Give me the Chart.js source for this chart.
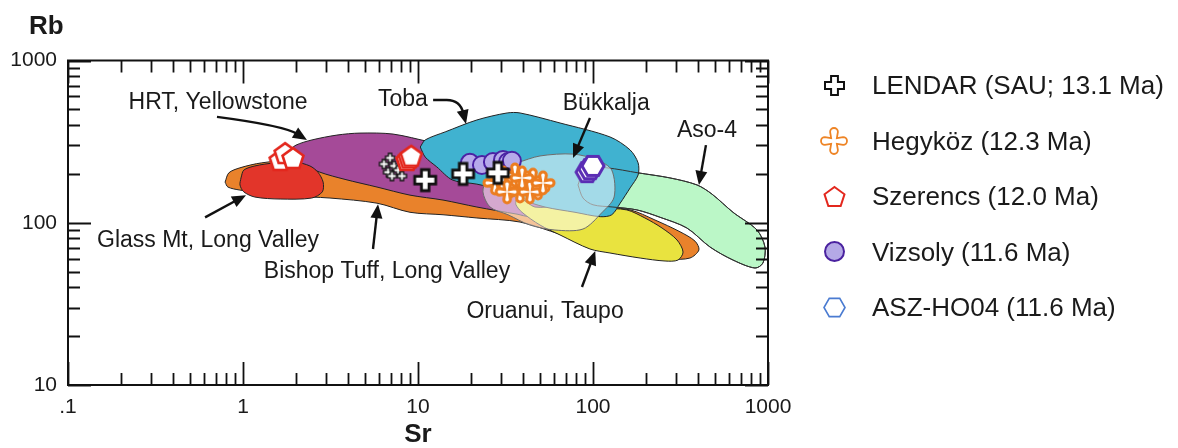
<!DOCTYPE html>
<html lang="en">
<head>
<meta charset="utf-8">
<title>Rb vs Sr</title>
<script src="https://cdn.jsdelivr.net/npm/chart.js@4/dist/chart.umd.min.js"></script>
<style>
  html, body { margin: 0; padding: 0; background: #ffffff; }
  #wrap { width: 1178px; height: 448px; }
  canvas { display: block; }
</style>
</head>
<body>
<div id="wrap"><canvas id="chart" width="1178" height="448"></canvas></div>
<script>
const FONT = '"Liberation Sans", Arial, Helvetica, sans-serif';
const INK = '#1a1a1a';

// Axis ticks (ppm)
const srTicks = [0.1, 1, 10, 100, 1000];
const srTickLabels = ['.1', '1', '10', '100', '1000'];
const rbTicks = [10, 100, 1000];
const rbTickLabels = ['10', '100', '1000'];

// Literature fields: outlines as [Sr, Rb] in ppm
const bishopTuffField = [[0.79,178],[0.83,203],[0.96,218],[1.28,234],[2.12,244],[4.08,211],[7.89,178],[15.2,155],[38.3,138],[96,127],[163,120],[226,104],[314,88],[383,77],[403,68],[358,60.6],[275,59.7],[186,62.4],[110,72],[64.8,85],[38.3,101],[21.7,107],[13.9,112],[9.0,116],[5.83,132],[3.14,142],[1.86,146],[1.25,153],[0.96,159],[0.82,166],[0.79,178]];
const hrtYellowstoneField = [[1.78,273],[2.01,301],[2.48,324],[3.44,347],[4.66,357],[7.2,352],[11.7,315],[19.8,281],[33.6,227],[49.8,171],[55.3,129],[43.6,110],[36.8,113],[21.7,125],[13.9,138],[9.0,148],[5.83,166],[3.83,185],[2.75,205],[2.12,234],[1.78,273]];
const glassMtField = [[0.974,189],[1.01,211],[1.17,224],[1.52,234],[1.98,237],[2.41,224],[2.68,205],[2.87,178],[2.84,155],[2.47,142],[1.63,140],[1.17,144],[1.01,155],[0.961,171],[0.974,189]];
const oruanuiField = [[36.3,138],[39.3,140],[46.6,125],[64.8,127],[110,123],[156,120],[198,107],[248,92.8],[302,78.3],[327,66],[306,58.9],[258,58.1],[186,60.6],[125,65.1],[96.1,68.9],[64.8,84.1],[49.8,96.8],[39.3,116],[36.3,129],[36.3,138]];
const aso4Field = [[82.1,171],[90,218],[120,218],[181,203],[275,189],[393,171],[479,150],[631,116],[865,90.2],[961,70.9],[936,56.5],[843,52.6],[631,58.9],[466,70.9],[344,92.8],[242,108],[178,120],[130,125],[100,129],[87.7,142],[82.1,171]];
const tobaField = [[10.3,293],[11.0,324],[14.3,363],[21.7,430],[32.3,475],[38.3,475],[64.8,412],[125,338],[163,281],[181,234],[181,197],[163,164],[143,132],[128,112],[110,109],[78.9,116],[53.2,125],[38.3,140],[29.4,159],[21.7,173],[15.8,183],[12.8,221],[11.0,254],[10.3,293]];
const bukkaljaField = [[36.8,234],[49.8,258],[76.9,265],[105,244],[128,211],[132,144],[112,115],[87.7,91.5],[60.6,90.2],[43.6,96.8],[32.7,112],[25.8,125],[23.5,155],[24.8,183],[29.4,200],[36.8,234]];

// Samples (ppm)
const lendarSr = [11.0, 18.1, 28.6];
const lendarRb = [183, 200, 203];
const lendarClusterSr = [6.39, 6.92, 7.29, 6.74, 7.69, 8.1, 7.1];
const lendarClusterRb = [230, 251, 224, 205, 211, 194, 194];
const hegykozSr = [27.5, 30.6, 33.6, 35.8, 38.3, 42.0, 45.4, 48.5, 43.6, 51.8, 32.3, 39.3];
const hegykozRb = [176, 189, 168, 197, 157, 176, 183, 164, 155, 176, 155, 189];
const szerencsSr = [1.63, 1.74, 1.93, 8.65, 8.9, 9.15];
const szerencsRb = [244, 269, 251, 244, 252, 259];
const vizsolySr = [19.8, 23.2, 26.8, 30.6, 32.7, 34.4];
const vizsolyRb = [234, 227, 237, 244, 237, 241];
const aszSr = [92.5, 96.1, 100];
const aszRb = [205, 214, 224];

const seriesNames = ['LENDAR (SAU; 13.1 Ma)', 'Hegyköz (12.3 Ma)', 'Szerencs (12.0 Ma)', 'Vizsoly (11.6 Ma)', 'ASZ-HO04 (11.6 Ma)'];

// Field labels and leader arrows, placed in data space
const fieldLabels = [
  { text: 'HRT, Yellowstone', at: [0.72, 502] },
  { text: 'Toba', at: [8.2, 524] },
  { text: 'Bükkalja', at: [119, 495] },
  { text: 'Aso-4', at: [448, 338] },
  { text: 'Glass Mt, Long Valley', at: [0.631, 70.9] },
  { text: 'Bishop Tuff, Long Valley', at: [6.65, 45.6] },
  { text: 'Oruanui, Taupo', at: [53.2, 25.9] }
];
const fieldArrows = [
  { path: [[0.71, 449], [1.48, 389], [2.32, 324]], curve: 'through' },
  { path: [[12.2, 571], [14.6, 571], [17.4, 571], [18.8, 406]], curve: 'elbow' },
  { path: [[96.1, 442], [76.9, 251]] },
  { path: [[442, 301], [403, 171]] },
  { path: [[0.607, 108], [1.04, 148]] },
  { path: [[5.53, 68.9], [5.91, 130]] },
  { path: [[86.5, 40.2], [103, 66.9]] }
];

const toPoints = (xs, ys) => xs.map((x, i) => ({ x, y: ys[i] }));
const pairsToPoints = pairs => pairs.map(([x, y]) => ({ x, y }));

// Symbol sprites
function markerCanvas(kind, size, stroke, fill, lw) {
  const pad = Math.ceil(lw) + 2;
  const s = Math.ceil(size) + pad * 2;
  const c = document.createElement('canvas');
  c.width = s; c.height = s;
  const g = c.getContext('2d');
  g.translate(s / 2, s / 2);
  const r = size / 2;
  g.beginPath();
  if (kind === 'plus') {
    const t = r * 0.36;
    g.moveTo(-t, -r); g.lineTo(t, -r); g.lineTo(t, -t); g.lineTo(r, -t); g.lineTo(r, t); g.lineTo(t, t);
    g.lineTo(t, r); g.lineTo(-t, r); g.lineTo(-t, t); g.lineTo(-r, t); g.lineTo(-r, -t); g.lineTo(-t, -t);
    g.closePath();
  } else if (kind === 'lobed') {
    const t = r * 0.22, k = r * 0.3;
    g.moveTo(-t, -t);
    g.arc(0, -r + k, k, Math.PI, 0);
    g.lineTo(t, -t);
    g.arc(r - k, 0, k, -Math.PI / 2, Math.PI / 2);
    g.lineTo(t, t);
    g.arc(0, r - k, k, 0, Math.PI);
    g.lineTo(-t, t);
    g.arc(-r + k, 0, k, Math.PI / 2, Math.PI * 1.5);
    g.closePath();
  } else if (kind === 'pentagon') {
    for (let i = 0; i < 5; i++) {
      const a = -Math.PI / 2 + i * 2 * Math.PI / 5;
      g.lineTo(r * Math.cos(a), r * Math.sin(a) + r * 0.1);
    }
    g.closePath();
  } else if (kind === 'hexagon') {
    for (let i = 0; i < 6; i++) {
      const a = i * Math.PI / 3;
      g.lineTo(r * Math.cos(a), r * Math.sin(a));
    }
    g.closePath();
  } else {
    g.arc(0, 0, r, 0, Math.PI * 2);
  }
  g.fillStyle = fill;
  g.fill();
  g.lineWidth = lw;
  g.strokeStyle = stroke;
  g.lineJoin = 'miter';
  g.stroke();
  return c;
}

const plotMarkers = {
  lendar: markerCanvas('plus', 21, '#111111', '#ffffff', 2.8),
  lendarSmall: markerCanvas('plus', 9, '#111111', '#ffffff', 1.4),
  hegykoz: markerCanvas('lobed', 22, '#ec7d1f', '#ffffff', 3),
  szerencs: markerCanvas('pentagon', 22, '#e3271d', '#ffffff', 2.6),
  asz: markerCanvas('hexagon', 22, '#5a2db4', '#ffffff', 3)
};
const legendMarkers = {
  [seriesNames[0]]: markerCanvas('plus', 19, '#111111', '#ffffff', 2),
  [seriesNames[1]]: markerCanvas('lobed', 26, '#ee8425', '#ffffff', 1.8),
  [seriesNames[2]]: markerCanvas('pentagon', 21, '#e3271d', '#ffffff', 2),
  [seriesNames[3]]: markerCanvas('circle', 19, '#4a229f', '#b4a9e6', 2),
  [seriesNames[4]]: markerCanvas('hexagon', 21, '#4a7bd1', '#ffffff', 1.6)
};

function field(label, pairs, fillColor, lineColor, fill = 'shape') {
  return {
    label, data: pairsToPoints(pairs), showLine: true, fill,
    backgroundColor: fillColor, borderColor: lineColor, borderWidth: 1,
    pointRadius: 0, pointHoverRadius: 0, tension: 0.3
  };
}
function samples(label, xs, ys, sprite) {
  return { label, data: toPoints(xs, ys), pointStyle: sprite, pointRadius: 10, pointHoverRadius: 10, showLine: false };
}

// Bottom-most first
const layers = [
  field('Bishop Tuff, Long Valley', bishopTuffField, '#e9822b', '#222222'),
  field('HRT, Yellowstone', hrtYellowstoneField, '#a54a98', '#222222'),
  field('Glass Mt, Long Valley', glassMtField, '#e2352a', '#222222'),
  field('Oruanui, Taupo', oruanuiField, '#e9e33f', '#222222'),
  field('Aso-4', aso4Field, '#bbf7c7', '#222222'),
  field('Toba', tobaField, '#40b2d0', '#222222'),
  field('Aso-4 outline', aso4Field, 'rgba(0,0,0,0)', '#333333', false),
  field('Bükkalja', bukkaljaField, 'rgba(255,255,255,0.52)', '#6c6c6c'),
  samples('LENDAR cluster', lendarClusterSr, lendarClusterRb, plotMarkers.lendarSmall),
  samples(seriesNames[2], szerencsSr, szerencsRb, plotMarkers.szerencs),
  { label: seriesNames[3], data: toPoints(vizsolySr, vizsolyRb), pointStyle: 'circle', pointRadius: 9, pointHoverRadius: 9,
    backgroundColor: '#b6aaea', borderColor: '#4b22a4', borderWidth: 2, showLine: false },
  samples(seriesNames[1], hegykozSr, hegykozRb, plotMarkers.hegykoz),
  samples(seriesNames[0], lendarSr, lendarRb, plotMarkers.lendar),
  samples(seriesNames[4], aszSr, aszRb, plotMarkers.asz)
];
layers.forEach((d, i) => { d.order = layers.length - i; });

// Boxed frame with inward decade / sub-decade ticks, plus the Rb title
const framePlugin = {
  id: 'frameTicks',
  afterDatasetsDraw(chart) {
    const { ctx, chartArea: a, scales: { x, y } } = chart;
    const major = 23, minor = 12;
    ctx.save();
    ctx.strokeStyle = '#111111';
    ctx.lineWidth = 2;
    ctx.strokeRect(a.left, a.top, a.right - a.left, a.bottom - a.top);
    ctx.lineWidth = 1.8;
    ctx.beginPath();
    const decadesX = srTicks.slice(0, -1), decadesY = rbTicks.slice(0, -1);
    for (const d of decadesX) {
      for (let m = 1; m <= 10; m++) {
        const px = Math.round(x.getPixelForValue(m * d)) + 0.5;
        const len = (m === 1 || m === 10) ? major : minor;
        ctx.moveTo(px, a.bottom); ctx.lineTo(px, a.bottom - len);
        ctx.moveTo(px, a.top); ctx.lineTo(px, a.top + len);
      }
    }
    for (const d of decadesY) {
      for (let m = 1; m <= 10; m++) {
        const py = Math.round(y.getPixelForValue(m * d)) + 0.5;
        const len = (m === 1 || m === 10) ? major : minor;
        ctx.moveTo(a.left, py); ctx.lineTo(a.left + len, py);
        ctx.moveTo(a.right, py); ctx.lineTo(a.right - len, py);
      }
    }
    ctx.stroke();
    ctx.fillStyle = INK;
    ctx.font = `bold 26px ${FONT}`;
    ctx.textAlign = 'left';
    ctx.textBaseline = 'alphabetic';
    ctx.fillText('Rb', a.left - 39, a.top - 27);
    ctx.restore();
  }
};

// Field names with leader arrows
function shorten(from, to, by) {
  const dx = to[0] - from[0], dy = to[1] - from[1];
  const L = Math.hypot(dx, dy) || 1;
  return [to[0] - dx / L * by, to[1] - dy / L * by];
}
const annotationPlugin = {
  id: 'fieldAnnotations',
  afterDatasetsDraw(chart) {
    const { ctx, scales: { x, y } } = chart;
    const px = ([sr, rb]) => [x.getPixelForValue(sr), y.getPixelForValue(rb)];
    const HEAD = 14, HW = 6;
    ctx.save();
    ctx.fillStyle = INK;
    ctx.font = `23px ${FONT}`;
    ctx.textAlign = 'center';
    ctx.textBaseline = 'alphabetic';
    for (const lab of fieldLabels) {
      const [X, Y] = px(lab.at);
      ctx.fillText(lab.text, X, Y);
    }
    ctx.strokeStyle = '#111111';
    ctx.fillStyle = '#111111';
    ctx.lineWidth = 2.4;
    ctx.lineCap = 'butt';
    for (const arrow of fieldArrows) {
      const p = arrow.path.map(px);
      const tip = p[p.length - 1];
      let from;
      ctx.beginPath();
      ctx.moveTo(p[0][0], p[0][1]);
      if (arrow.curve === 'through') {
        const c = [2 * p[1][0] - (p[0][0] + p[2][0]) / 2, 2 * p[1][1] - (p[0][1] + p[2][1]) / 2];
        from = c;
        const end = shorten(c, tip, HEAD * 0.8);
        ctx.quadraticCurveTo(c[0], c[1], end[0], end[1]);
      } else if (arrow.curve === 'elbow') {
        ctx.lineTo(p[1][0], p[1][1]);
        from = p[2];
        const end = shorten(from, tip, HEAD * 0.8);
        ctx.quadraticCurveTo(p[2][0], p[2][1], end[0], end[1]);
      } else {
        from = p[0];
        const end = shorten(from, tip, HEAD * 0.8);
        ctx.lineTo(end[0], end[1]);
      }
      ctx.stroke();
      const ang = Math.atan2(tip[1] - from[1], tip[0] - from[0]);
      const bx = tip[0] - HEAD * Math.cos(ang), by = tip[1] - HEAD * Math.sin(ang);
      ctx.beginPath();
      ctx.moveTo(tip[0], tip[1]);
      ctx.lineTo(bx + HW * Math.sin(ang), by - HW * Math.cos(ang));
      ctx.lineTo(bx - HW * Math.sin(ang), by + HW * Math.cos(ang));
      ctx.closePath();
      ctx.fill();
    }
    ctx.restore();
  }
};

// Sample legend to the right of the plot
const legendPlugin = {
  id: 'sampleLegend',
  afterDraw(chart) {
    const { ctx, chartArea: a } = chart;
    ctx.save();
    ctx.font = `26px ${FONT}`;
    ctx.fillStyle = INK;
    ctx.textAlign = 'left';
    ctx.textBaseline = 'middle';
    const items = seriesNames.map(name => chart.data.datasets.find(d => d.label === name));
    items.forEach((d, i) => {
      const cy = a.top + 26.5 + i * 55.5;
      const m = legendMarkers[d.label];
      ctx.drawImage(m, Math.round(a.right + 66 - m.width / 2), Math.round(cy - 2 - m.height / 2));
      ctx.fillText(d.label, a.right + 104, cy);
    });
    ctx.restore();
  }
};

Chart.defaults.font.family = FONT;
Chart.defaults.color = INK;

new Chart(document.getElementById('chart'), {
  type: 'scatter',
  data: { datasets: layers },
  options: {
    responsive: false,
    animation: false,
    events: [],
    layout: { padding: { top: 60.5, right: 410, bottom: 0, left: 0 } },
    plugins: { legend: { display: false }, tooltip: { enabled: false } },
    scales: {
      x: {
        type: 'logarithmic', position: 'bottom', min: 0.1, max: 1000,
        afterBuildTicks: s => { s.ticks = srTicks.map(v => ({ value: v })); },
        ticks: { callback: (v, i) => srTickLabels[i], font: { size: 21 }, color: INK, padding: 10, autoSkip: false, maxRotation: 0 },
        grid: { display: false, drawTicks: false },
        border: { display: false },
        title: { display: true, text: 'Sr', color: INK, font: { size: 26, weight: 'bold', lineHeight: 1 }, padding: { top: 0, bottom: 0 } },
        afterFit: s => { s.height = 63; }
      },
      y: {
        type: 'logarithmic', position: 'left', min: 10, max: 1000,
        afterBuildTicks: s => { s.ticks = rbTicks.map(v => ({ value: v })); },
        ticks: { callback: (v, i) => rbTickLabels[i], font: { size: 21 }, color: INK, padding: 11, autoSkip: false },
        grid: { display: false, drawTicks: false },
        border: { display: false },
        afterFit: s => { s.width = 68; }
      }
    }
  },
  plugins: [framePlugin, annotationPlugin, legendPlugin]
});
</script>
</body>
</html>
